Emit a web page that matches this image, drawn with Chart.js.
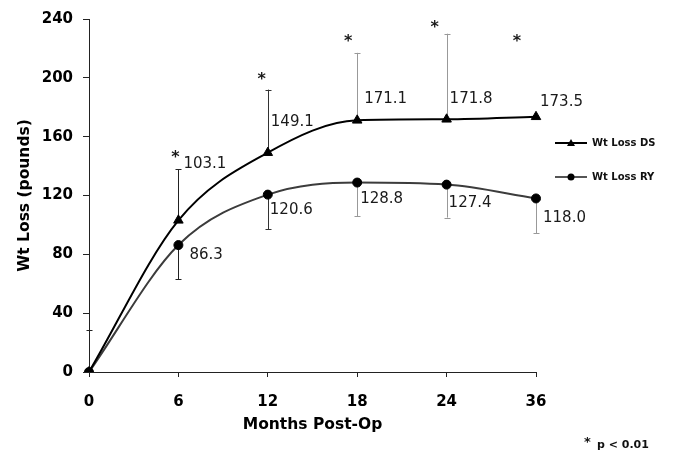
<!DOCTYPE html>
<html>
<head>
<meta charset="utf-8">
<script src="https://cdn.jsdelivr.net/npm/chart.js@4.4.1/dist/chart.umd.min.js"></script>
<style>
  html, body { margin: 0; padding: 0; background: #fff; }
  #wrap { width: 673px; height: 450px; }
</style>
</head>
<body>
<div id="wrap"><canvas id="chart" width="673" height="450"></canvas></div>
<script>
// months post-op (equally spaced categories)
const months = ['0', '6', '12', '18', '24', '36'];
const wtLossDS = [0, 103.1, 149.1, 171.1, 171.8, 173.5];
const wtLossRY = [0, 86.3, 120.6, 128.8, 127.4, 118.0];
// error bar ends (pounds): DS upward, RY downward
const errTopDS = [28.5, 138, 192, 217, 230, null];
const errBottomRY = [null, 63, 97, 106, 105, 94.5];
// height of the significance asterisks (pounds)
const starHeights = [null, 149, 202, 228, 237, 228];
const yMin = 0, yMax = 240, yStep = 40;

const FONT = '"DejaVu Sans", "Liberation Sans", Arial, sans-serif';

// pixel nudges for the value labels, like Excel placed them
const dsLabelOffsets = [null, [5, -56], [3, -31], [7, -21], [3, -20], [4, -15]];
const ryLabelOffsets = [null, [11, 10], [2, 15], [3, 17], [2, 18], [7, 20]];
const starDx = [0, -3, -6, -9, -12, -19];
const barColors = ['#222', '#222', '#333', '#999', '#999', '#999'];

const errorBars = {
    id: 'errorBars',
    beforeDatasetsDraw(chart) {
        const ctx = chart.ctx;
        const y = chart.scales.y;
        const drawBar = (x, y0, y1, color) => {
            ctx.strokeStyle = color;
            ctx.lineWidth = 1;
            ctx.beginPath();
            ctx.moveTo(x + 0.5, y0);
            ctx.lineTo(x + 0.5, y1);
            ctx.moveTo(x - 2.5, Math.round(y1) + 0.5);
            ctx.lineTo(x + 3.5, Math.round(y1) + 0.5);
            ctx.stroke();
        };
        ctx.save();
        const ds = chart.getDatasetMeta(0).data;
        const ry = chart.getDatasetMeta(1).data;
        errTopDS.forEach((v, i) => {
            if (v == null) return;
            drawBar(Math.round(ds[i].x), ds[i].y, y.getPixelForValue(v), barColors[i]);
        });
        errBottomRY.forEach((v, i) => {
            if (v == null) return;
            drawBar(Math.round(ry[i].x), ry[i].y, y.getPixelForValue(v), barColors[i]);
        });
        ctx.restore();
    }
};

const annotations = {
    id: 'annotations',
    afterDatasetsDraw(chart) {
        const ctx = chart.ctx;
        const y = chart.scales.y;
        const ds = chart.getDatasetMeta(0).data;
        const ry = chart.getDatasetMeta(1).data;
        ctx.save();
        ctx.fillStyle = '#1a1a1a';
        ctx.textBaseline = 'middle';
        ctx.textAlign = 'left';
        ctx.font = '15px ' + FONT;
        wtLossDS.forEach((v, i) => {
            const o = dsLabelOffsets[i];
            if (!o) return;
            ctx.fillText(v.toFixed(1), ds[i].x + o[0], ds[i].y + o[1]);
        });
        wtLossRY.forEach((v, i) => {
            const o = ryLabelOffsets[i];
            if (!o) return;
            ctx.fillText(v.toFixed(1), ry[i].x + o[0], ry[i].y + o[1]);
        });

        // asterisks
        ctx.font = 'bold 16px ' + FONT;
        ctx.textAlign = 'center';
        ctx.textBaseline = 'alphabetic';
        starHeights.forEach((v, i) => {
            if (v == null) return;
            ctx.fillText('*', ds[i].x + starDx[i], y.getPixelForValue(v) + 9);
        });

        // legend
        const lx = chart.chartArea.right + 19;
        const items = [
            { text: 'Wt Loss DS', y: 143, color: '#000', style: 'triangle' },
            { text: 'Wt Loss RY', y: 177, color: '#555', style: 'circle' }
        ];
        items.forEach(it => {
            ctx.strokeStyle = it.color;
            ctx.lineWidth = 2;
            ctx.beginPath();
            ctx.moveTo(lx, it.y);
            ctx.lineTo(lx + 32, it.y);
            ctx.stroke();
            ctx.fillStyle = '#000';
            ctx.beginPath();
            if (it.style === 'triangle') {
                ctx.moveTo(lx + 16, it.y - 4);
                ctx.lineTo(lx + 20, it.y + 3);
                ctx.lineTo(lx + 12, it.y + 3);
                ctx.closePath();
            } else {
                ctx.arc(lx + 16, it.y, 3.5, 0, Math.PI * 2);
            }
            ctx.fill();
            ctx.font = 'bold 10px ' + FONT;
            ctx.textAlign = 'left';
            ctx.textBaseline = 'middle';
            ctx.fillStyle = '#111';
            ctx.fillText(it.text, lx + 37, it.y);
        });

        // footnote
        ctx.font = 'bold 13px ' + FONT;
        ctx.textBaseline = 'alphabetic';
        ctx.fillText('*', 584, 446);
        ctx.font = 'bold 11px ' + FONT;
        ctx.fillText('p < 0.01', 597, 448);
        ctx.restore();
    }
};

new Chart(document.getElementById('chart'), {
    type: 'line',
    data: {
        labels: months,
        datasets: [
            {
                label: 'Wt Loss DS',
                data: wtLossDS,
                borderColor: '#000',
                backgroundColor: '#000',
                pointBorderColor: '#000',
                borderWidth: 2,
                pointBorderWidth: 1,
                pointStyle: 'triangle',
                pointRadius: 5.5,
                cubicInterpolationMode: 'monotone'
            },
            {
                label: 'Wt Loss RY',
                data: wtLossRY,
                borderColor: '#3c3c3c',
                backgroundColor: '#000',
                pointBorderColor: '#000',
                borderWidth: 2,
                pointBorderWidth: 1,
                pointStyle: 'circle',
                pointRadius: 4.5,
                cubicInterpolationMode: 'monotone'
            }
        ]
    },
    options: {
        responsive: false,
        animation: false,
        devicePixelRatio: 1,
        layout: { padding: { top: 19, right: 137, left: 0, bottom: 0 } },
        plugins: { legend: { display: false }, tooltip: { enabled: false } },
        scales: {
            x: {
                offset: false,
                grid: { drawOnChartArea: false, tickLength: 5, color: '#222' },
                border: { color: '#222', width: 1 },
                ticks: { color: '#000', padding: 16, font: { family: FONT, size: 15, weight: 'bold' }, maxRotation: 0 },
                title: { display: true, text: 'Months Post-Op', color: '#000', padding: { top: 0, bottom: 16 }, font: { family: FONT, size: 15.5, weight: 'bold' } },
                afterFit(scale) { scale.height = 78; }
            },
            y: {
                min: yMin,
                max: yMax,
                grid: { drawOnChartArea: false, tickLength: 6, color: '#222' },
                border: { color: '#222', width: 1 },
                ticks: { stepSize: yStep, color: '#000', padding: 10, font: { family: FONT, size: 15, weight: 'bold' } },
                title: { display: true, text: 'Wt Loss (pounds)', color: '#000', padding: { top: 16, bottom: 0 }, font: { family: FONT, size: 15.5, weight: 'bold' } },
                afterFit(scale) { scale.width = 89; }
            }
        }
    },
    plugins: [errorBars, annotations]
});
</script>
</body>
</html>
